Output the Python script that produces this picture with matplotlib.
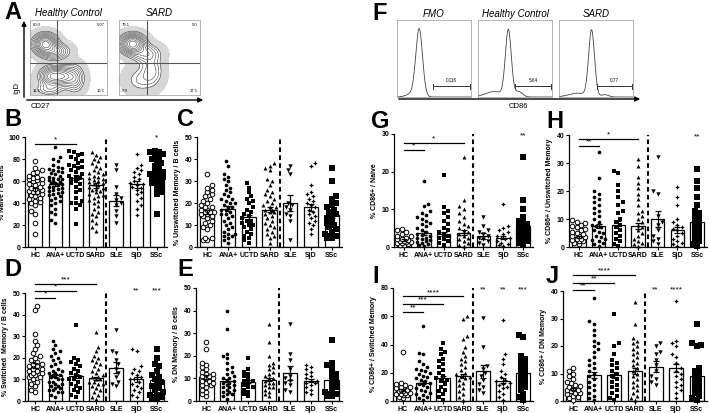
import numpy as np
import matplotlib
matplotlib.use('Agg')
import matplotlib.pyplot as plt

plt.rcParams['font.family'] = ['Liberation Sans', 'DejaVu Sans']

# ---------------- data ----------------
groups = ['HC', 'ANA+', 'UCTD', 'SARD', 'SLE', 'SjD', 'SSc']

naive_pts = [
    [12, 22, 30, 33, 38, 40, 41, 42, 44, 45, 46, 47, 48, 50, 50, 51, 52, 53, 54, 55, 56, 57, 58, 60, 61, 62, 62, 63, 64, 65, 67, 68, 70, 72, 78],
    [22, 25, 30, 32, 35, 38, 40, 42, 43, 45, 46, 47, 48, 49, 50, 51, 52, 53, 54, 55, 55, 56, 57, 58, 58, 59, 60, 61, 62, 62, 63, 64, 65, 66, 67, 68, 69, 70, 71, 72, 73, 75, 78, 80, 82, 91],
    [21, 35, 38, 40, 40, 42, 45, 50, 52, 55, 57, 58, 60, 62, 63, 64, 65, 66, 68, 70, 72, 73, 74, 75, 76, 78, 80, 82, 84, 85, 86, 87],
    [15, 18, 22, 25, 28, 30, 32, 35, 37, 40, 42, 43, 45, 46, 47, 48, 50, 51, 52, 53, 54, 55, 56, 57, 58, 59, 60, 61, 62, 63, 64, 65, 66, 67, 68, 70, 72, 74, 76, 78, 80, 82, 84, 86],
    [22, 28, 33, 38, 40, 43, 45, 48, 55, 70, 75],
    [29, 35, 38, 42, 45, 48, 50, 52, 54, 55, 56, 57, 58, 60, 62, 64, 66, 68, 70, 72, 75, 85],
    [30, 48, 50, 52, 55, 57, 58, 60, 60, 62, 63, 64, 65, 66, 67, 68, 70, 72, 74, 76, 78, 80, 82, 84, 85, 86, 86, 87],
]
naive_mean = [51, 57, 63, 56, 42, 57, 65]
naive_sem = [2.5, 1.5, 2.5, 2.0, 5.0, 3.0, 2.5]

unsw_pts = [
    [3, 3, 4, 4, 8, 9, 10, 11, 12, 13, 14, 14, 15, 15, 16, 16, 16, 17, 17, 18, 18, 19, 20, 21, 22, 23, 24, 25, 26, 27, 28, 33],
    [2, 3, 4, 5, 5, 6, 6, 7, 8, 9, 10, 11, 12, 13, 14, 15, 15, 16, 17, 17, 18, 18, 19, 20, 20, 21, 22, 22, 23, 24, 25, 26, 27, 28, 30, 31, 32, 33, 37, 39],
    [2, 3, 4, 5, 6, 7, 8, 9, 10, 10, 11, 12, 12, 13, 14, 15, 16, 17, 18, 20, 21, 22, 23, 25, 27, 29],
    [2, 4, 5, 6, 7, 8, 9, 10, 11, 12, 13, 14, 15, 16, 16, 17, 17, 18, 18, 19, 20, 21, 22, 23, 24, 25, 26, 28, 30, 31, 35, 36, 37, 38],
    [3, 12, 14, 15, 17, 18, 19, 20, 33, 35, 37],
    [6, 8, 10, 11, 12, 13, 14, 15, 16, 17, 18, 19, 20, 21, 22, 23, 24, 25, 28, 37, 38],
    [4, 4, 5, 5, 6, 7, 8, 9, 10, 11, 12, 13, 14, 15, 16, 17, 18, 19, 20, 22, 23, 30, 36],
]
unsw_mean = [16, 17.5, 13.5, 17, 20, 18, 14.5]
unsw_sem = [1.0, 1.0, 1.2, 1.0, 3.5, 1.7, 1.5]

sw_pts = [
    [4, 5, 7, 8, 9, 10, 11, 11, 12, 12, 13, 13, 14, 14, 15, 15, 16, 16, 17, 17, 18, 19, 20, 21, 22, 24, 26, 28, 31, 42, 44],
    [2, 3, 4, 4, 5, 5, 6, 6, 7, 7, 8, 8, 9, 9, 10, 10, 11, 11, 12, 12, 13, 13, 14, 14, 15, 16, 17, 18, 19, 20, 21, 22, 23, 24, 26, 28],
    [2, 3, 4, 5, 6, 7, 8, 9, 10, 10, 11, 12, 13, 14, 15, 16, 17, 18, 19, 20, 35],
    [1, 2, 3, 4, 5, 6, 7, 8, 8, 9, 9, 10, 10, 11, 11, 12, 13, 14, 15, 16, 17, 18, 19, 20, 21, 23, 25, 32],
    [7, 8, 9, 11, 13, 15, 17, 19, 22, 23, 33],
    [2, 3, 4, 5, 6, 7, 8, 9, 10, 10, 11, 12, 13, 14, 15, 16, 23, 24],
    [1, 1, 2, 2, 3, 3, 4, 5, 6, 7, 8, 9, 10, 11, 12, 14, 16, 17, 20, 24],
]
sw_mean = [16.5, 12, 11.5, 10.5, 15.5, 10, 9.5]
sw_sem = [1.3, 0.7, 1.0, 0.8, 2.5, 1.0, 1.2]

dn_pts = [
    [2, 3, 4, 5, 6, 7, 7, 8, 8, 9, 9, 10, 10, 11, 11, 12, 12, 13, 14, 15, 16, 17, 23, 26],
    [1, 2, 3, 3, 4, 4, 5, 5, 6, 6, 7, 7, 8, 8, 9, 9, 10, 10, 11, 12, 13, 14, 15, 17, 19, 20, 21, 32, 40],
    [2, 3, 4, 5, 6, 6, 7, 8, 9, 9, 10, 11, 12, 13, 14, 19],
    [2, 3, 4, 5, 6, 6, 7, 8, 8, 9, 10, 10, 11, 12, 13, 14, 15, 16, 17, 20, 26, 34],
    [4, 5, 7, 8, 9, 10, 11, 14, 18, 21, 34],
    [3, 4, 5, 6, 7, 8, 8, 9, 9, 10, 11, 12, 13, 14, 15, 16],
    [2, 2, 3, 3, 4, 5, 6, 7, 8, 9, 10, 11, 12, 13, 15, 16, 17, 27],
]
dn_mean = [10.5, 9, 8.5, 9.5, 12.5, 9, 9.5]
dn_sem = [0.8, 0.8, 0.6, 0.8, 3.0, 0.8, 1.2]

cd86_naive_pts = [
    [0.5, 0.6, 0.8, 1.0, 1.0, 1.2, 1.3, 1.5, 1.6, 1.8, 2.0, 2.2, 2.5, 2.8, 3.0, 3.5, 4.0, 4.5, 4.8],
    [0.3, 0.5, 0.8, 1.0, 1.3, 1.5, 1.8, 2.0, 2.3, 2.5, 3.0, 3.3, 3.5, 4.0, 4.5, 5.0, 5.5, 6.0, 6.5, 7.0, 7.5, 8.0, 8.5, 9.0, 9.5, 11, 11.5, 17.5],
    [0.5, 1.0, 1.5, 2.0, 2.5, 3.0, 3.5, 4.0, 4.5, 5.0, 6.0, 7.0, 8.0, 9.0, 9.5, 10.5, 19],
    [0.3, 0.6, 1.0, 1.5, 2.0, 2.5, 3.0, 3.5, 4.0, 4.5, 5.0, 5.5, 6.0, 7.0, 8.0, 9.0, 10.0, 11.0, 12.5, 24],
    [0.5, 1.0, 1.5, 2.0, 2.5, 3.0, 3.5, 4.0, 4.5, 5.5, 8],
    [0.3, 0.5, 0.8, 1.0, 1.5, 2.0, 2.3, 2.5, 3.0, 3.5, 4.0, 4.5, 5.0, 5.5, 11.5],
    [0.5, 1.0, 1.5, 2.0, 2.5, 3.0, 3.5, 4.0, 4.5, 5.0, 5.5, 6.0, 6.5, 7.0, 8.0, 10, 12.5, 24],
]
cd86_naive_mean = [1.8, 3.8, 3.5, 3.8, 3.0, 2.5, 5.5]
cd86_naive_sem = [0.2, 0.5, 0.6, 0.6, 0.8, 0.5, 1.2]

cd86_unsw_pts = [
    [1, 1.5, 2, 2, 2.5, 3, 3, 3.5, 4, 4, 4.5, 5, 5.5, 6, 6.5, 7, 7.5, 8, 8.5, 9, 9.5],
    [0.5, 1, 1.5, 2, 2.5, 3, 3.5, 4, 5, 5.5, 6, 7, 7.5, 8, 9, 10, 11, 12, 13, 14, 15, 16, 17, 18, 19, 20, 24.5, 34],
    [0.5, 1, 2, 3, 4, 5, 6, 7, 8, 9, 10, 12, 13, 15, 16, 18, 20, 22, 26.5, 27],
    [0.5, 1, 1.5, 2, 3, 4, 5, 6, 7, 8, 9, 10, 11, 12, 13, 15, 17, 19, 21, 23, 25, 29, 31.5],
    [1, 2, 3, 4, 6, 8, 9, 11, 19, 20, 32],
    [0.5, 1, 1.5, 2, 3, 4, 5, 6, 6.5, 7, 8, 9, 10, 15, 18, 21.5],
    [0.5, 1, 2, 3, 4, 5, 6, 7, 8, 9, 10, 11, 12, 13, 15, 18, 21, 23.5, 28],
]
cd86_unsw_mean = [3.5, 7.5, 8, 7.5, 10, 6, 9]
cd86_unsw_sem = [0.4, 0.8, 1.3, 0.9, 3.0, 1.0, 1.4]

cd86_sw_pts = [
    [2, 3, 4, 4, 5, 5, 6, 6, 7, 7, 8, 8, 9, 9, 10, 10, 11, 12, 13, 35],
    [1, 2, 3, 4, 5, 6, 7, 8, 9, 10, 11, 12, 13, 14, 15, 16, 17, 18, 19, 20, 21, 22, 23, 24, 26, 28, 33, 34, 53],
    [1, 3, 5, 7, 8, 10, 12, 14, 15, 16, 18, 20, 22, 24, 26, 28, 30, 33, 35, 37, 41],
    [1, 3, 5, 7, 9, 11, 13, 15, 16, 17, 18, 19, 20, 22, 24, 26, 28, 30, 32, 35, 38, 44, 46, 58, 60],
    [6, 8, 10, 12, 15, 18, 20, 23, 25, 38, 59],
    [1, 3, 5, 7, 9, 10, 11, 12, 13, 14, 15, 17, 19, 21, 26, 30, 33, 57],
    [1, 3, 5, 8, 10, 12, 14, 16, 18, 20, 22, 24, 26, 28, 30, 32, 45, 47],
]
cd86_sw_mean = [8, 13, 16, 17.5, 21, 14.5, 20]
cd86_sw_sem = [0.6, 1.0, 1.5, 1.5, 4.5, 2.0, 2.3]

cd86_dn_pts = [
    [0.5, 1, 1.5, 2, 2.5, 3, 3, 3.5, 4, 4, 4.5, 5, 5.5, 6, 6.5, 7, 8, 9, 10, 11, 12],
    [0.3, 1, 2, 3, 4, 5, 6, 7, 8, 9, 10, 11, 12, 13, 14, 15, 16, 18, 19, 20, 21, 22, 24, 26, 28, 29, 37.5],
    [0.5, 1, 2, 3, 4, 5, 6, 7, 8, 9, 10, 11, 12, 13, 14, 15, 17, 20, 21, 31.5],
    [0.5, 1, 2, 3, 4, 5, 6, 7, 8, 9, 10, 11, 12, 13, 14, 15, 16, 17, 18, 19, 20, 21, 22, 23, 28, 36],
    [6, 7, 8, 9, 11, 13, 15, 17, 18, 20, 21],
    [1, 3, 4, 5, 6, 7, 8, 9, 10, 11, 12, 14, 16, 17, 20, 21, 22, 36.5],
    [0.5, 1, 2, 3, 4, 5, 6, 7, 8, 9, 10, 11, 12, 20, 20.5, 21, 28],
]
cd86_dn_mean = [4.5, 9.5, 9.5, 11, 12.5, 12, 9]
cd86_dn_sem = [0.4, 1.0, 1.0, 1.0, 2.0, 1.5, 1.2]

# flow plot blobs: (cx, cy, sx, sy, weight) in plot fraction
hc_blobs = [(0.20, 0.68, 0.08, 0.07, 1.0), (0.32, 0.58, 0.10, 0.06, 0.35),
            (0.42, 0.25, 0.09, 0.07, 0.55), (0.27, 0.25, 0.08, 0.07, 0.50),
            (0.58, 0.22, 0.07, 0.10, 0.25), (0.25, 0.08, 0.10, 0.05, 0.15)]
sard_blobs = [(0.17, 0.68, 0.08, 0.07, 1.0), (0.33, 0.55, 0.10, 0.07, 0.22),
              (0.40, 0.32, 0.08, 0.12, 0.15), (0.25, 0.20, 0.10, 0.10, 0.08)]
hc_quads = ['60.0', '5.07', '11.3', '16.5']
sard_quads = ['79.1', '5.0', '7.9', '17.5']

# histogram peaks: (center, sd, height)
fmo_peaks = [(0.30, 0.045, 0.86), (0.22, 0.08, 0.05)]
hcf_peaks = [(0.41, 0.040, 0.86), (0.22, 0.12, 0.07), (0.55, 0.05, 0.07)]
sardf_peaks = [(0.44, 0.040, 0.86), (0.25, 0.12, 0.05), (0.62, 0.05, 0.03)]
gate_vals = ['0.116', '5.64', '0.77']

# ---------------- figure ----------------
W, H = 709, 413
fig = plt.figure(figsize=(W / 100, H / 100), dpi=100)


def pax(l, t, r, b, **kw):
    return fig.add_axes([l / W, 1 - b / H, (r - l) / W, (b - t) / H], **kw)


ov = fig.add_axes([0, 0, 1, 1], zorder=20)
ov.set_xlim(0, W)
ov.set_ylim(H, 0)
ov.axis('off')
ov.patch.set_alpha(0)


def letter(x, y, s):
    ov.text(x, y, s, fontsize=17, fontweight='bold', ha='left', va='top')


# ----- Panel A: contour plots -----
gx, gy = np.meshgrid(np.linspace(0, 1, 160), np.linspace(0, 1, 160))


def dens(blobs):
    z = np.zeros_like(gx)
    for cx, cy, sx, sy, w in blobs:
        z += w * np.exp(-((gx - cx) ** 2 / (2 * sx ** 2) + (gy - cy) ** 2 / (2 * sy ** 2)))
    return z


for box, blobs, quads, qv, qh, title in [
        ((30, 20, 107, 95), hc_blobs, hc_quads, 0.35, 0.43, 'Healthy Control'),
        ((119, 20, 200, 95), sard_blobs, sard_quads, 0.34, 0.43, 'SARD')]:
    ax = pax(*box)
    z = dens(blobs)
    m = z.max()
    ax.contourf(gx, gy, z, levels=[0.004 * m, 0.05 * m], colors=['#d6d6d6'])
    lv = m * np.array([0.05, 0.08, 0.12, 0.17, 0.23, 0.30, 0.38, 0.47, 0.58, 0.72, 0.86])
    ax.contour(gx, gy, z, levels=lv, colors='#444444', linewidths=0.4)
    ax.axvline(qv, color='#555555', lw=0.8)
    ax.axhline(qh, color='#555555', lw=0.8)
    ax.set_xlim(0, 1)
    ax.set_ylim(0, 1)
    ax.set_xticks([])
    ax.set_yticks([])
    for s in ax.spines.values():
        s.set_color('#999999')
        s.set_linewidth(0.5)
    kw = dict(fontsize=3, transform=ax.transAxes)
    ax.text(0.03, 0.96, quads[0], ha='left', va='top', **kw)
    ax.text(0.97, 0.96, quads[1], ha='right', va='top', **kw)
    ax.text(0.03, 0.03, quads[2], ha='left', va='bottom', **kw)
    ax.text(0.97, 0.03, quads[3], ha='right', va='bottom', **kw)
    ov.text((box[0] + box[2]) / 2, 13, title, fontsize=7, style='italic', ha='center', va='center')

letter(4, 1, 'A')
ov.annotate('', xy=(206, 100), xytext=(24, 100),
            arrowprops=dict(arrowstyle='-|>', lw=1.0, color='black', mutation_scale=7))
ov.annotate('', xy=(24, 18), xytext=(24, 100),
            arrowprops=dict(arrowstyle='-|>', lw=1.0, color='black', mutation_scale=7))
ov.text(40, 106, 'CD27', fontsize=5.5, ha='center', va='center')
ov.text(17, 88, 'IgD', fontsize=5.5, ha='center', va='center', rotation=90)

# ----- Panel F: histograms -----
hx = np.linspace(0, 1, 300)
for box, peaks, gv, gs, title in [
        ((397, 20, 471, 97), fmo_peaks, gate_vals[0], 0.49, 'FMO'),
        ((478, 20, 552, 97), hcf_peaks, gate_vals[1], 0.50, 'Healthy Control'),
        ((559, 20, 633, 97), sardf_peaks, gate_vals[2], 0.51, 'SARD')]:
    ax = pax(*box)
    y = np.zeros_like(hx)
    for c, sd, h in peaks:
        y += h * np.exp(-(hx - c) ** 2 / (2 * sd ** 2))
    ax.plot(hx, y, color='#444444', lw=0.6)
    ax.set_xlim(0, 1)
    ax.set_ylim(0, 1)
    ax.set_xticks([])
    ax.set_yticks([])
    for s in ax.spines.values():
        s.set_color('#999999')
        s.set_linewidth(0.5)
    ax.plot([gs, 0.99], [0.14, 0.14], color='#333333', lw=0.7)
    ax.plot([gs, gs], [0.11, 0.17], color='#333333', lw=0.7)
    ax.plot([0.99, 0.99], [0.11, 0.17], color='#333333', lw=0.7)
    ax.text((gs + 0.99) / 2, 0.18, gv, fontsize=3.3, ha='center', va='bottom')
    ov.text((box[0] + box[2]) / 2, 14, title, fontsize=7, style='italic', ha='center', va='center')

letter(372, 2, 'F')
ov.annotate('', xy=(643, 99), xytext=(396, 99),
            arrowprops=dict(arrowstyle='-|>', lw=1.0, color='black', mutation_scale=7))
ov.text(518, 107, 'CD86', fontsize=5.5, ha='center', va='center')

# ----- scatter / bar panels -----
styles = [
    dict(marker='o', s=11, facecolors='white', edgecolors='black', linewidths=0.7),
    dict(marker='o', s=7, c='black', linewidths=0),
    dict(marker='s', s=7, c='black', linewidths=0),
    dict(marker='^', s=8, c='black', linewidths=0),
    dict(marker='v', s=10, c='black', linewidths=0),
    dict(marker=(4, 1, 0), s=11, c='black', linewidths=0),
    dict(marker='s', s=13, c='black', linewidths=0),
]


def swarm(yp, d, maxw):
    order = np.argsort(yp, kind='stable')
    cands = [0.0]
    k = 1
    while k * d * 0.5 <= maxw + 1e-9:
        cands += [k * d * 0.5, -k * d * 0.5]
        k += 1
    px, py = [], []
    xs = np.zeros(len(yp))
    for n, i in enumerate(order):
        yv = yp[i]
        sign = 1 if n % 2 == 0 else -1
        best, bestc, bestscore = None, 0.0, -1
        for c in cands:
            c = c * sign
            if px:
                md = np.min(np.hypot(np.array(px) - c, np.array(py) - yv))
            else:
                md = np.inf
            if md >= d:
                best = c
                break
            if md > bestscore:
                bestscore, bestc = md, c
        if best is None:
            best = bestc
        xs[i] = best
        px.append(best)
        py.append(yv)
    return xs


panels = [
    ('B', (25, 137, 167, 247), (4, 108), naive_pts, naive_mean, naive_sem, 100, 20,
     '% Naive / B cells', [(2, 94, '*')], [(6, 99, '*')]),
    ('C', (197, 137, 342, 247), (177, 108), unsw_pts, unsw_mean, unsw_sem, 50, 10,
     '% Unswitched Memory / B cells', [], []),
    ('D', (25, 293, 167, 401), (4, 258), sw_pts, sw_mean, sw_sem, 50, 10,
     '% Switched  Memory / B cells', [(3, 54, '***'), (2, 51, '*'), (1, 47.5, '*')],
     [(5, 51, '**'), (6, 51, '***')]),
    ('E', (196, 288, 342, 401), (177, 258), dn_pts, dn_mean, dn_sem, 50, 10,
     '% DN Memory / B cells', [], []),
    ('G', (394, 134, 533, 247), (371, 110), cd86_naive_pts, cd86_naive_mean, cd86_naive_sem, 30, 10,
     '% CD86+ / Naive', [(3, 27.6, '*'), (1, 25.7, '*')], [(6, 29.5, '**')]),
    ('H', (569, 135, 707, 247), (546, 110), cd86_unsw_pts, cd86_unsw_mean, cd86_unsw_sem, 40, 10,
     '% CD86+ / Unswitched Memory', [(3, 38.5, '*'), (1, 36, '**')], [(6, 39.5, '**')]),
    ('I', (393, 288, 533, 401), (372, 265), cd86_sw_pts, cd86_sw_mean, cd86_sw_sem, 80, 20,
     '% CD86+ / Switched Memory', [(3, 74, '****'), (2, 68.7, '***'), (1, 63, '**')],
     [(4, 79, '**'), (5, 79, '**'), (6, 79, '***')]),
    ('J', (563, 291, 707, 401), (546, 265), cd86_dn_pts, cd86_dn_mean, cd86_dn_sem, 40, 10,
     '% CD86+ / DN Memory', [(3, 45.8, '****'), (2, 43, '**'), (1, 40.4, '**')],
     [(4, 40.5, '**'), (5, 40.5, '****')]),
]

for (lab, box, lpos, pts, means, sems, ymax, ystep, ylabel, sigs, tops) in panels:
    ax = pax(*box)
    l, t, r, b = box
    hpx = b - t
    upx = (r - l) / 7.0
    xpos = np.arange(len(groups))
    ax.bar(xpos, means, width=0.68, color='white', edgecolor='black', linewidth=0.9, zorder=1)
    for gi, vals in enumerate(pts):
        vals = np.asarray(vals, dtype=float)
        yp = vals / ymax * hpx
        offs = swarm(yp, 4.4, 6.8) / upx
        ax.scatter(gi + offs, vals, zorder=3, clip_on=False, **styles[gi])
    ax.errorbar(xpos, means, yerr=sems, fmt='none', ecolor='black', elinewidth=0.9,
                capsize=2.2, capthick=0.9, zorder=4)
    ax.axvline(3.5, color='black', lw=1.5, ls=(0, (2.2, 1.6)), zorder=2)
    ax.set_xlim(-0.5, 6.5)
    ax.set_ylim(0, ymax)
    ax.set_yticks(np.arange(0, ymax + 0.1, ystep))
    ax.set_xticks(xpos)
    ax.set_xticklabels(groups)
    for s in ['top', 'right']:
        ax.spines[s].set_visible(False)
    for s in ['left', 'bottom']:
        ax.spines[s].set_linewidth(0.9)
    ax.tick_params(axis='both', length=2.3, width=0.8, labelsize=5, pad=1.2)
    for tl in ax.get_xticklabels() + ax.get_yticklabels():
        tl.set_fontweight('bold')
    ax.set_ylabel(ylabel, fontsize=5, fontweight='bold', labelpad=2)
    for tgt, yv, txt in sigs:
        ax.plot([0, tgt], [yv, yv], color='black', lw=0.9, clip_on=False, zorder=5)
        ax.text(tgt / 2.0, yv + ymax * 0.005, txt, fontsize=6, ha='center', va='bottom')
    for gi, yv, txt in tops:
        ax.text(gi, yv, txt, fontsize=6, ha='center', va='center')
    letter(lpos[0], lpos[1], lab)

fig.savefig('out.png', dpi=100)
